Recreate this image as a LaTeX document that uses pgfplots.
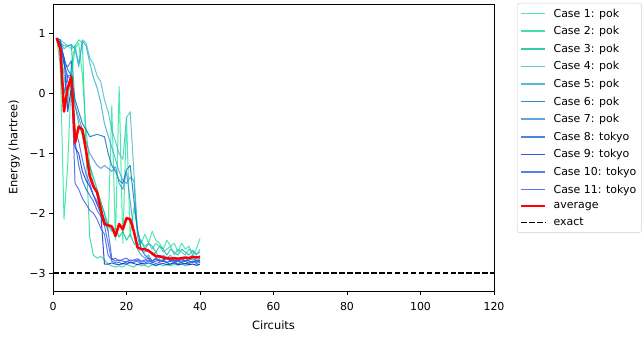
\documentclass[border=0pt]{standalone}
\usepackage{fontspec}
\setmainfont{DejaVu Sans}
\usepackage{pgfplots}
\pgfplotsset{compat=1.18}

\definecolor{c1}{RGB}{30,230,150}
\definecolor{c2}{RGB}{20,215,150}
\definecolor{c3}{RGB}{0,190,150}
\definecolor{c4}{RGB}{60,190,195}
\definecolor{c5}{RGB}{40,170,210}
\definecolor{c6}{RGB}{0,110,190}
\definecolor{c7}{RGB}{60,140,220}
\definecolor{c8}{RGB}{30,100,220}
\definecolor{c9}{RGB}{0,40,210}
\definecolor{c10}{RGB}{50,90,240}
\definecolor{c11}{RGB}{60,80,235}

% one run of the optimiser
\pgfplotsset{case/.style={#1, opacity=0.8, line width=1bp,
    legend image post style={line width=1.6bp}}}

\begin{document}
\begin{tikzpicture}
\useasboundingbox (-53bp,-51bp) rectangle (589bp,291bp);
\begin{axis}[
  at={(0,0)}, anchor=south west,
  scale only axis, width=441bp, height=287bp,
  xmin=0, xmax=120, ymin=-3.3, ymax=1.5,
  xtick={0,20,...,120},
  ytick={-3,-2,-1,0,1}, yticklabels={−3,−2,−1,0,1},
  tick align=outside, tick pos=left, major tick length=3.5bp,
  every tick/.style={black, line width=0.8bp},
  axis line style={line width=0.8bp},
  font=\fontsize{11}{13}\selectfont,
  tick label style={font=\fontsize{11}{13}\selectfont},
  label style={font=\fontsize{11.5}{13}\selectfont},
  xticklabel style={yshift=-4.5bp},
  yticklabel style={xshift=-0.5bp},
  /pgf/number format/assume math mode=true,
  xlabel=Circuits, ylabel=Energy (hartree),
  xlabel style={at={(axis description cs:0.5,-0.118)}, anchor=center},
  ylabel style={at={(axis description cs:-0.088,0.5)}, anchor=center},
  legend cell align=left,
  legend style={at={(1.052,1.0035)}, anchor=north west,
    draw=black!20, rounded corners=2bp, font=\fontsize{11}{13}\selectfont,
    row sep=3.8bp, inner xsep=3bp, inner ysep=3.5bp,
    /tikz/every odd column/.append style={column sep=5bp}},
  legend image code/.code={\draw[#1] (0bp,0bp) -- (24bp,0bp);},
  every axis plot/.append style={line join=round},
]
\addplot[case=c1] coordinates {(1,0.93)(2,0.45)(3,-2.10)(4,-1.20)(5,0.30)(6,0.75)(7,0.85)(8,0.30)(9,-0.60)(10,-1.20)(11,-1.50)(12,-1.70)(13,-1.85)(14,-2.00)(15,-2.30)(16,-0.20)(17,-2.45)(18,0.12)(19,-2.50)(20,-0.40)(21,-2.40)(22,-1.90)(23,-2.30)(24,-2.50)(25,-2.35)(26,-2.50)(27,-2.30)(28,-2.45)(29,-2.50)(30,-2.60)(31,-2.45)(32,-2.55)(33,-2.50)(34,-2.65)(35,-2.50)(36,-2.60)(37,-2.55)(38,-2.70)(39,-2.60)(40,-2.42)};
\addlegendentry{Case 1: pok}
\addplot[case=c2] coordinates {(1,0.93)(2,0.80)(3,0.30)(4,-0.20)(5,0.50)(6,0.80)(7,0.90)(8,0.85)(9,-1.00)(10,-2.40)(11,-2.70)(12,-2.75)(13,-2.72)(14,-2.78)(15,-2.85)(16,-2.88)(17,-2.90)(18,-2.88)(19,-2.90)(20,-2.85)(21,-2.88)(22,-2.90)(23,-2.85)(24,-2.88)(25,-2.87)(26,-2.90)(27,-2.86)(28,-2.88)(29,-2.85)(30,-2.88)(31,-2.86)(32,-2.88)(33,-2.85)(34,-2.87)(35,-2.85)(36,-2.88)(37,-2.86)(38,-2.85)(39,-2.87)(40,-2.86)};
\addlegendentry{Case 2: pok}
\addplot[case=c3] coordinates {(1,0.93)(2,0.85)(3,0.80)(4,0.80)(5,0.82)(6,-0.20)(7,-0.50)(8,-0.70)(9,-1.00)(10,-1.20)(11,-1.40)(12,-1.60)(13,-1.80)(14,-2.00)(15,-2.20)(16,-2.30)(17,-2.25)(18,-2.40)(19,-2.30)(20,-2.45)(21,-2.35)(22,-2.50)(23,-2.55)(24,-2.45)(25,-2.60)(26,-2.50)(27,-2.55)(28,-2.65)(29,-2.55)(30,-2.60)(31,-2.70)(32,-2.60)(33,-2.65)(34,-2.70)(35,-2.60)(36,-2.65)(37,-2.70)(38,-2.62)(39,-2.68)(40,-2.65)};
\addlegendentry{Case 3: pok}
\addplot[case=c4] coordinates {(1,0.93)(2,0.90)(3,0.85)(4,0.80)(5,0.75)(6,0.80)(7,0.50)(8,0.90)(9,0.85)(10,0.60)(11,0.50)(12,0.30)(13,0.20)(14,-0.10)(15,-0.30)(16,-0.60)(17,-0.80)(18,-1.00)(19,-1.10)(20,-0.40)(21,-0.30)(22,-1.30)(23,-2.30)(24,-2.50)(25,-2.55)(26,-2.50)(27,-2.60)(28,-2.50)(29,-2.55)(30,-2.65)(31,-2.60)(32,-2.55)(33,-2.70)(34,-2.60)(35,-2.65)(36,-2.70)(37,-2.60)(38,-2.65)(39,-2.70)(40,-2.60)};
\addlegendentry{Case 4: pok}
\addplot[case=c5] coordinates {(1,0.93)(2,0.85)(3,0.75)(4,0.80)(5,0.82)(6,0.75)(7,0.45)(8,0.88)(9,0.80)(10,0.52)(11,0.27)(12,0.10)(13,-0.15)(14,-0.50)(15,-0.70)(16,-0.90)(17,-1.10)(18,-1.30)(19,-1.45)(20,-1.50)(21,-1.40)(22,-1.45)(23,-2.40)(24,-2.60)(25,-2.65)(26,-2.60)(27,-2.70)(28,-2.65)(29,-2.75)(30,-2.70)(31,-2.75)(32,-2.70)(33,-2.80)(34,-2.75)(35,-2.75)(36,-2.80)(37,-2.75)(38,-2.70)(39,-2.80)(40,-2.75)};
\addlegendentry{Case 5: pok}
\addplot[case=c6] coordinates {(1,0.93)(2,0.80)(3,0.60)(4,0.40)(5,0.30)(6,-0.10)(7,-0.30)(8,-0.50)(9,-0.60)(10,-0.72)(11,-0.70)(12,-0.68)(13,-0.70)(14,-0.72)(15,-1.00)(16,-1.20)(17,-1.30)(18,-1.45)(19,-1.50)(20,-1.27)(21,-1.20)(22,-1.77)(23,-2.27)(24,-2.60)(25,-2.70)(26,-2.75)(27,-2.80)(28,-2.75)(29,-2.80)(30,-2.78)(31,-2.82)(32,-2.80)(33,-2.80)(34,-2.85)(35,-2.82)(36,-2.80)(37,-2.85)(38,-2.80)(39,-2.82)(40,-2.80)};
\addlegendentry{Case 6: pok}
\addplot[case=c7] coordinates {(1,0.93)(2,0.85)(3,0.50)(4,0.30)(5,0.20)(6,-0.20)(7,-0.40)(8,-0.60)(9,-0.80)(10,-1.00)(11,-1.10)(12,-1.20)(13,-1.25)(14,-1.20)(15,-1.25)(16,-1.30)(17,-1.22)(18,-1.50)(19,-1.60)(20,-1.30)(21,-1.80)(22,-2.30)(23,-2.60)(24,-2.70)(25,-2.75)(26,-2.70)(27,-2.80)(28,-2.75)(29,-2.78)(30,-2.80)(31,-2.75)(32,-2.80)(33,-2.82)(34,-2.78)(35,-2.80)(36,-2.75)(37,-2.80)(38,-2.82)(39,-2.78)(40,-2.80)};
\addlegendentry{Case 7: pok}
\addplot[case=c8] coordinates {(1,0.93)(2,0.80)(3,0.50)(4,0.45)(5,0.55)(6,-0.80)(7,-1.20)(8,-1.45)(9,-1.60)(10,-1.70)(11,-1.80)(12,-1.95)(13,-2.05)(14,-2.20)(15,-2.50)(16,-2.80)(17,-2.83)(18,-2.82)(19,-2.85)(20,-2.80)(21,-2.83)(22,-2.82)(23,-2.80)(24,-2.85)(25,-2.83)(26,-2.80)(27,-2.82)(28,-2.84)(29,-2.82)(30,-2.80)(31,-2.83)(32,-2.85)(33,-2.82)(34,-2.80)(35,-2.83)(36,-2.85)(37,-2.82)(38,-2.80)(39,-2.84)(40,-2.82)};
\addlegendentry{Case 8: tokyo}
\addplot[case=c9] coordinates {(1,0.93)(2,0.85)(3,0.60)(4,-0.30)(5,0.10)(6,-0.90)(7,-1.00)(8,-1.30)(9,-1.45)(10,-1.55)(11,-1.70)(12,-1.85)(13,-2.00)(14,-2.85)(15,-2.85)(16,-2.83)(17,-2.85)(18,-2.86)(19,-2.84)(20,-2.85)(21,-2.82)(22,-2.84)(23,-2.86)(24,-2.84)(25,-2.85)(26,-2.83)(27,-2.85)(28,-2.87)(29,-2.85)(30,-2.84)(31,-2.86)(32,-2.85)(33,-2.83)(34,-2.86)(35,-2.85)(36,-2.84)(37,-2.86)(38,-2.85)(39,-2.87)(40,-2.85)};
\addlegendentry{Case 9: tokyo}
\addplot[case=c10] coordinates {(1,0.93)(2,0.90)(3,0.55)(4,0.20)(5,0.10)(6,-0.60)(7,-0.80)(8,-1.10)(9,-1.35)(10,-1.50)(11,-1.70)(12,-1.80)(13,-1.95)(14,-2.10)(15,-2.30)(16,-2.75)(17,-2.80)(18,-2.78)(19,-2.80)(20,-2.82)(21,-2.78)(22,-2.80)(23,-2.78)(24,-2.82)(25,-2.80)(26,-2.78)(27,-2.82)(28,-2.80)(29,-2.78)(30,-2.80)(31,-2.82)(32,-2.80)(33,-2.78)(34,-2.80)(35,-2.82)(36,-2.79)(37,-2.80)(38,-2.82)(39,-2.80)(40,-2.78)};
\addlegendentry{Case 10: tokyo}
\addplot[case=c11] coordinates {(1,0.93)(2,0.75)(3,0.00)(4,0.30)(5,0.30)(6,-1.50)(7,-1.60)(8,-1.75)(9,-1.85)(10,-1.95)(11,-2.00)(12,-2.10)(13,-2.25)(14,-2.35)(15,-2.70)(16,-2.78)(17,-2.75)(18,-2.80)(19,-2.77)(20,-2.75)(21,-2.80)(22,-2.78)(23,-2.76)(24,-2.80)(25,-2.78)(26,-2.75)(27,-2.80)(28,-2.77)(29,-2.80)(30,-2.78)(31,-2.76)(32,-2.80)(33,-2.78)(34,-2.80)(35,-2.77)(36,-2.80)(37,-2.78)(38,-2.76)(39,-2.80)(40,-2.79)};
\addlegendentry{Case 11: tokyo}
\addplot[red, line width=2.5bp] coordinates {(1,0.93)(2,0.75)(3,-0.30)(4,0.10)(5,0.28)(6,-0.82)(7,-0.55)(8,-0.60)(9,-0.95)(10,-1.38)(11,-1.55)(12,-1.65)(13,-1.93)(14,-2.18)(15,-2.20)(16,-2.22)(17,-2.38)(18,-2.18)(19,-2.27)(20,-2.08)(21,-2.10)(22,-2.30)(23,-2.57)(24,-2.60)(25,-2.60)(26,-2.63)(27,-2.67)(28,-2.72)(29,-2.72)(30,-2.74)(31,-2.75)(32,-2.76)(33,-2.75)(34,-2.76)(35,-2.75)(36,-2.74)(37,-2.75)(38,-2.73)(39,-2.74)(40,-2.73)};
\addlegendentry{average}
\addplot[black, line width=1.5bp, dash pattern=on 5.55bp off 2.4bp] coordinates {(0,-3)(120,-3)};
\addlegendentry{exact}
\end{axis}
\end{tikzpicture}
\end{document}
